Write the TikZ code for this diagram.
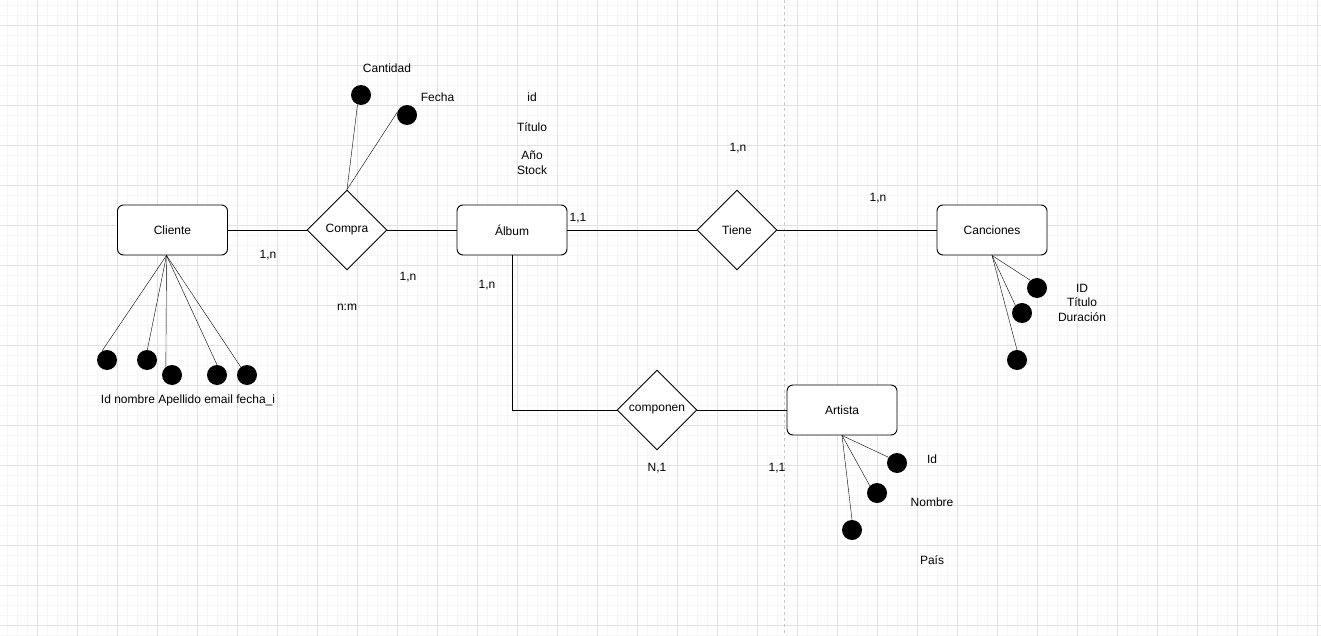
\documentclass[tikz,border=0pt]{standalone}
\usepackage{fontspec}
\setmainfont{Liberation Sans}
\usepackage{tikz}
\usetikzlibrary{positioning}
\usetikzlibrary{shapes.geometric}
\definecolor{gridmenor}{RGB}{246,246,246}
\definecolor{gridmayor}{RGB}{226,226,226}
\definecolor{guia}{RGB}{200,200,200}

\begin{document}
\begin{tikzpicture}[x=1pt,y=-1pt,
  every node/.style={font=\fontsize{12}{14.5}\selectfont},
  entidad/.style={draw, rounded corners=6pt, minimum width=110pt, minimum height=50pt, line width=0.9pt, fill=white},
  relacion/.style={draw, diamond, aspect=1, minimum width=80pt, minimum height=80pt, inner sep=0pt, line width=0.9pt, fill=white},
  atributo/.style={circle, fill=black, minimum size=20pt, inner sep=0pt},
  etiqueta/.style={inner sep=0pt, align=center}]
\useasboundingbox (0,0) rectangle (1321,636);
\fill[white] (0,0) rectangle (1321,636);
% grid
\foreach \x in {7,17,...,1317} \draw[gridmenor, line width=0.8pt] (\x,0) -- (\x,636);
\foreach \y in {5,15,...,635} \draw[gridmenor, line width=0.8pt] (0,\y) -- (1321,\y);
\foreach \x in {37,77,...,1317} \draw[gridmayor, line width=0.8pt] (\x,0) -- (\x,636);
\foreach \y in {25,65,...,625} \draw[gridmayor, line width=0.8pt] (0,\y) -- (1321,\y);
\draw[guia, dashed, line width=0.8pt] (784.5,0) -- (784.5,636);

% entidades y relaciones
\node[entidad] (cliente) at (172.5,230) {Cliente};
\node[relacion] (compra) at (347,230) {Compra};
\node[entidad] (album) at (512,230) {Álbum};
\node[relacion] (tiene) at (737,230) {Tiene};
\node[entidad] (canciones) at (992,230) {Canciones};
\node[relacion] (componen) at (657,410) {componen};
\node[entidad] (artista) at (842,410) {Artista};

\draw[line width=0.9pt] (cliente) -- (compra);
\draw[line width=0.9pt] (compra) -- (album);
\draw[line width=0.9pt] (album) -- (tiene);
\draw[line width=0.9pt] (tiene) -- (canciones);
\draw[line width=0.9pt] (album.south) |- (componen.west);
\draw[line width=0.9pt] (componen) -- (artista);

% atributos de Cliente
\coordinate (cli-o) at ([xshift=-6pt]cliente.south);
\node[atributo] (cli1) at (107,360) {};
\node[atributo] (cli2) at (147,360) {};
\node[atributo] (cli3) at (172,375) {};
\node[atributo] (cli4) at (217,375) {};
\node[atributo] (cli5) at (247,375) {};
\draw (cli-o) -- (cli1.120);
\draw (cli-o) -- (cli2.88);
\draw (cli-o) -- (cli3.127);
\draw (cli-o) -- (cli4.90);
\draw (cli-o) -- (cli5.128);
\node[etiqueta] (cli-txt) at (188,400) {Id nombre Apellido email fecha\_i};

% atributos de Compra
\node[atributo] (com1) at (361,95) {};
\node[atributo] (com2) at (407,115) {};
\draw (compra.north) -- (com1.-110);
\draw (compra.north) -- (com2.165);
\node[etiqueta] (cantidad) at (387,68) {Cantidad};
\node[etiqueta] (fecha) at (437.5,97.5) {Fecha};

% atributos de Álbum
\node[etiqueta] (alb-id) at (532,97.5) {id};
\node[etiqueta] (alb-tit) at (532,127.5) {Título};
\node[etiqueta, font=\fontsize{12}{15}\selectfont] (alb-ano) at (532,163) {Año\\Stock};

% atributos de Canciones
\node[atributo] (can1) at (1037,288) {};
\node[atributo] (can2) at (1022,313) {};
\node[atributo] (can3) at (1017,360) {};
\draw (canciones.south) -- (can1.131);
\draw (canciones.south) -- (can2.131);
\draw (canciones.south) -- (can3.90);
\node[etiqueta] (can-txt) at (1082,302.5) {ID\\Título\\Duración};

% atributos de Artista
\node[atributo] (art1) at (897,463) {};
\node[atributo] (art2) at (877,493) {};
\node[atributo] (art3) at (852,530) {};
\draw (artista.south) -- (art1.146);
\draw (artista.south) -- (art2.135);
\draw (artista.south) -- (art3.90);
\node[etiqueta] (art-id) at (932,459.5) {Id};
\node[etiqueta] (art-nom) at (932,502.5) {Nombre};
\node[etiqueta] (art-pais) at (932,560.5) {País};

% cardinalidades
\node[etiqueta] (c1) at (268,255) {1,n};
\node[etiqueta] (c2) at (408,277.5) {1,n};
\node[etiqueta] (c3) at (487,285) {1,n};
\node[etiqueta] (c4) at (347,307.5) {n:m};
\node[etiqueta] (c5) at (578,218) {1,1};
\node[etiqueta] (c6) at (738,148) {1,n};
\node[etiqueta] (c7) at (878,198) {1,n};
\node[etiqueta] (c8) at (657,468) {N,1};
\node[etiqueta] (c9) at (777,468) {1,1};
\end{tikzpicture}
\end{document}
